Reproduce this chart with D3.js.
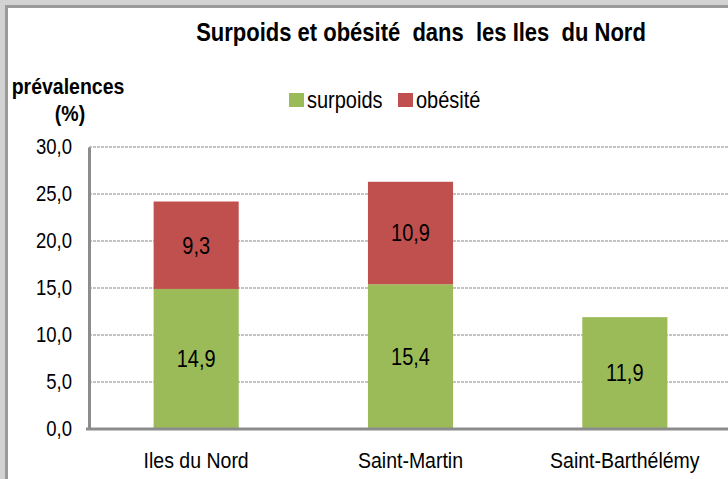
<!DOCTYPE html>
<html>
<head>
<meta charset="utf-8">
<script src="https://cdn.jsdelivr.net/npm/d3@7"></script>
<style>
  body { margin: 0; background: #d2d2d2; }
  svg { display: block; font-family: "Liberation Sans", Arial, sans-serif; }
  /* the reference glyphs look a bit stretched vertically */
  svg text { transform-box: fill-box; transform-origin: center; transform: scaleY(1.16); }
</style>
</head>
<body>
<script>
// Data
var categories = ["Iles du Nord", "Saint-Martin", "Saint-Barthélémy"];
var surpoids = [14.9, 15.4, 11.9];
var obesite = [9.3, 10.9, null];
var seriesNames = ["surpoids", "obésité"];
var yTicks = [0, 5, 10, 15, 20, 25, 30];

var svgWidth = 728;
var svgHeight = 479;

var colors = { "surpoids": "#9bbb59", "obésité": "#c0504d" };

var svg = d3.select("body")
  .append("svg")
  .attr("width", svgWidth)
  .attr("height", svgHeight);

// chart frame
svg.append("rect")
  .attr("x", 6.5).attr("y", 6.5)
  .attr("width", svgWidth).attr("height", svgHeight)
  .attr("fill", "#fff")
  .attr("stroke", "#9a9a9a")
  .attr("stroke-width", 3);

// plot area
var plot = { left: 89, right: 732, top: 147, bottom: 429 };

var x = d3.scaleBand()
  .domain(categories)
  .range([plot.left, plot.right])
  .paddingInner(0.603)
  .paddingOuter(0.3015);

var y = d3.scaleLinear()
  .domain([0, 30])
  .range([plot.bottom, plot.top]);

// gridlines
svg.append("g")
  .selectAll("line")
  .data(yTicks.filter(d => d > 0))
  .enter()
  .append("line")
  .attr("x1", plot.left)
  .attr("x2", svgWidth)
  .attr("y1", d => y(d))
  .attr("y2", d => y(d))
  .attr("stroke", "#c4c4c4")
  .attr("stroke-width", 2)
  .attr("stroke-dasharray", "3,1");

// stacked table
var table = categories.map(function(c, i) {
  return { cat: c, "surpoids": surpoids[i], "obésité": obesite[i] || 0 };
});
var stack = d3.stack().keys(seriesNames)(table);

var layers = svg.append("g")
  .selectAll("g")
  .data(stack)
  .enter()
  .append("g")
  .attr("fill", d => colors[d.key]);

layers.selectAll("rect")
  .data(d => d.filter(p => p[1] > p[0]))
  .enter()
  .append("rect")
  .attr("x", d => x(d.data.cat))
  .attr("width", x.bandwidth())
  .attr("y", d => y(d[1]))
  .attr("height", d => y(d[0]) - y(d[1]));

// value labels
layers.selectAll("text")
  .data(d => d.filter(p => p[1] > p[0]).map(p => ({ p: p, key: d.key })))
  .enter()
  .append("text")
  .attr("x", d => x(d.p.data.cat) + x.bandwidth() / 2)
  .attr("y", d => (y(d.p[0]) + y(d.p[1])) / 2)
  .attr("dy", "0.36em")
  .attr("text-anchor", "middle")
  .attr("fill", "#000")
  .style("font-size", "20px")
  .text(d => d3.format(".1f")(d.p.data[d.key]).replace(".", ","));

// axes
var leftAxis = d3.axisLeft(y)
  .tickValues(yTicks)
  .tickSize(0)
  .tickPadding(17)
  .tickFormat(d => d3.format(".1f")(d).replace(".", ","));

var gy = svg.append("g")
  .attr("transform", `translate(${plot.left}, 0)`)
  .call(leftAxis);
gy.select(".domain").attr("stroke", "#8c8c8c").attr("stroke-width", 3);
gy.selectAll("text").style("font-size", "18.5px").attr("fill", "#000").attr("font-family", "Liberation Sans, Arial, sans-serif");

var bottomAxis = d3.axisBottom(x).tickSize(0).tickPadding(24);
var gx = svg.append("g")
  .attr("transform", `translate(0, ${plot.bottom})`)
  .call(bottomAxis);
gx.select(".domain").attr("d", `M${plot.left - 3},0H${svgWidth + 5}`)
  .attr("stroke", "#8c8c8c").attr("stroke-width", 3);
gx.selectAll("text").style("font-size", "19.5px").attr("fill", "#000").attr("font-family", "Liberation Sans, Arial, sans-serif");

// title
svg.append("text")
  .attr("x", 421)
  .attr("y", 40)
  .attr("text-anchor", "middle")
  .style("font-size", "22px")
  .style("font-weight", "bold")
  .style("white-space", "pre")
  .text("Surpoids et obésité  dans  les Iles  du Nord");

// y axis title
svg.append("text")
  .attr("x", 68).attr("y", 93)
  .attr("text-anchor", "middle")
  .style("font-size", "19.5px")
  .style("font-weight", "bold")
  .text("prévalences");
svg.append("text")
  .attr("x", 70).attr("y", 120)
  .attr("text-anchor", "middle")
  .style("font-size", "19.5px")
  .style("font-weight", "bold")
  .text("(%)");

// legend
var legendX = [289, 398];
var legend = svg.append("g")
  .selectAll("g")
  .data(seriesNames)
  .enter()
  .append("g")
  .attr("transform", (d, i) => `translate(${legendX[i]}, 93)`);
legend.append("rect")
  .attr("width", 15).attr("height", 14)
  .attr("fill", d => colors[d]);
legend.append("text")
  .attr("x", 18).attr("y", 14)
  .style("font-size", "20px")
  .text(d => d);
</script>
</body>
</html>
